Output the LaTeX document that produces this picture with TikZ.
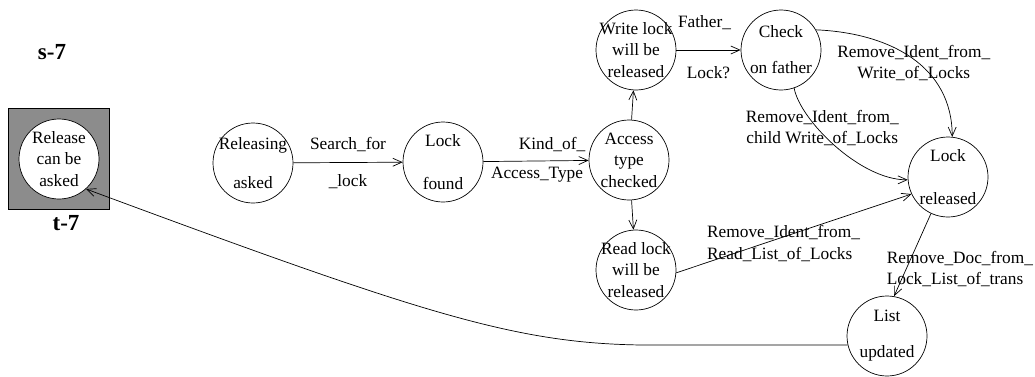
\documentclass[tikz,border=0pt]{standalone}
\usepackage{fontspec}
\setmainfont{Liberation Serif}
\usepackage{tikz}
\usetikzlibrary{arrows.meta}

\begin{document}
\begin{tikzpicture}[x=1pt, y=1pt, >={Straight Barb[length=9pt, width=8pt]}, line width=0.7pt,
    state/.style={circle, draw, fill=white, minimum size=80pt, inner sep=0pt},
    txt/.style={align=center, inner sep=0pt, font=\fontsize{17.3}{21.5}\selectfont},
    tag/.style={inner sep=0pt, font=\fontsize{23}{28}\selectfont\bfseries}]
        \useasboundingbox (0,0) rectangle (1035,376);
        % Nodes
        \node[tag] (s7) at (52,324) {s-7};
        \node[draw, fill=black!45, minimum width=101pt, minimum height=101pt] (box) at (59,217.5) {};
        \node[tag] (t7) at (66,153) {t-7};
        \node[state, label={[txt]center:{Release\\can be\\asked}}] (rca) at (59,217) {};
        \node[state, label={[txt]center:{Releasing\\[17.5pt]asked}}] (rls) at (253,213) {};
        \node[state, label={[txt]center:{Lock\\[21.5pt]found}}] (lck) at (443,214) {};
        \node[state, label={[txt]center:{Access\\type\\checked}}] (acc) at (629,216) {};
        \node[state, label={[txt]center:{Write lock\\will be\\released}}] (wrl) at (636,326) {};
        \node[state, label={[txt]center:{Read lock\\will be\\released}}] (rdl) at (636,106) {};
        \node[state, label={[txt]center:{Check\\[14.5pt]on father}}] (chk) at (781,326) {};
        \node[state, label={[txt]center:{Lock\\[22pt]released}}] (lrl) at (948,199) {};
        \node[state, label={[txt]center:{List\\[14.5pt]updated}}] (upd) at (887,40) {};

        % Directed edges
        \draw[->] (rls) -- (lck)
            node[txt, midway, yshift=18pt] {Search\_for}
            node[txt, midway, yshift=-19pt] {\_lock};
        \draw[->] (lck) -- (acc)
            node[txt, midway, xshift=16pt, yshift=16pt] {Kind\_of\_}
            node[txt, midway, xshift=1pt, yshift=-14pt] {Access\_Type};
        \draw[->] (acc) -- (wrl);
        \draw[->] (acc) -- (rdl);
        \draw[->] (wrl) -- (chk)
            node[txt, midway, xshift=-4pt, yshift=27pt] {Father\_}
            node[txt, midway, yshift=-23pt] {Lock?};
        \draw[->] (chk.30) .. controls (890,343) and (952,310) .. (lrl.84)
            node[txt, midway, xshift=2pt, yshift=-5pt] {Remove\_Ident\_from\_\\Write\_of\_Locks};
        \draw[->] (chk.-71) .. controls (800,256) and (860,196) .. (lrl.184)
            node[txt, midway, xshift=-13pt, yshift=18pt] {Remove\_Ident\_from\_\\child Write\_of\_Locks};
        \draw[->] (rdl.-4) -- (lrl.205)
            node[txt, midway, anchor=west, align=left, xshift=-87pt, yshift=-10pt] {Remove\_Ident\_from\_\\Read\_List\_of\_Locks};
        \draw[->] (lrl.245) -- (upd.80)
            node[txt, midway, anchor=west, align=left, xshift=-26pt, yshift=-14pt] {Remove\_Doc\_from\_\\Lock\_List\_of\_trans};
        \draw[->] (upd.193) -- ++(-194,0) .. controls +(-134,0) and +(345,-128) .. (rca.-48);
\end{tikzpicture}
\end{document}
